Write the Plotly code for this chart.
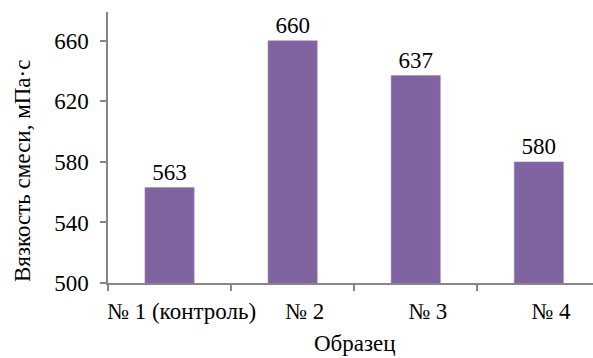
import plotly.graph_objects as go

# Viscosity of the mixture by sample
samples = ["№ 1 (контроль)", "№ 2", "№ 3", "№ 4"]
viscosity = [563, 660, 637, 580]
y_ticks = [500, 540, 580, 620, 660]

axis_color = "#868686"
font_family = "Liberation Serif"
fsize = 23

fig = go.Figure(
    go.Bar(
        x=samples,
        y=viscosity,
        marker=dict(color="#8064A2", line=dict(color="#9A82B8", width=0.5)),
        text=[str(v) for v in viscosity],
        textposition="outside",
        textfont=dict(family=font_family, size=fsize, color="#000000"),
        cliponaxis=False,
        width=0.4,
    )
)

fig.update_layout(
    width=593,
    height=358,
    margin=dict(l=108, r=0, t=12, b=75, autoexpand=False),
    paper_bgcolor="white",
    plot_bgcolor="white",
    showlegend=False,
    font=dict(family=font_family, size=fsize, color="#000000"),
    xaxis=dict(
        range=[-0.5, 3.44],
        showline=True,
        linecolor=axis_color,
        linewidth=1.5,
        ticks="outside",
        tickson="boundaries",
        ticklen=6,
        tickcolor=axis_color,
        tickwidth=1.5,
        showgrid=False,
        tickangle=0,
        automargin=False,
        ticklabelshift=12,
        ticklabelstandoff=7,
        tickfont=dict(family=font_family, size=fsize),
    ),
    yaxis=dict(
        range=[500, 679],
        tickvals=y_ticks,
        showline=True,
        linecolor=axis_color,
        linewidth=1.5,
        ticks="outside",
        ticklen=6,
        tickcolor=axis_color,
        tickwidth=1.5,
        showgrid=False,
        zeroline=False,
        automargin=False,
        ticklabelstandoff=7,
        tickfont=dict(family=font_family, size=fsize),
    ),
    annotations=[
        dict(
            text="Вязкость смеси, мПа·с",
            xref="paper", yref="paper",
            x=-108 / 485 + 22 / 485, y=(358 - 75 - 171) / 271,
            xanchor="center", yanchor="middle",
            textangle=-90,
            showarrow=False,
            font=dict(family=font_family, size=fsize),
        ),
        dict(
            text="Образец",
            xref="paper", yref="paper",
            x=(355 - 108) / 485, y=-(343 - 283) / 271,
            xanchor="center", yanchor="middle",
            showarrow=False,
            font=dict(family=font_family, size=fsize),
        ),
    ],
)

fig.write_html("out.html")
